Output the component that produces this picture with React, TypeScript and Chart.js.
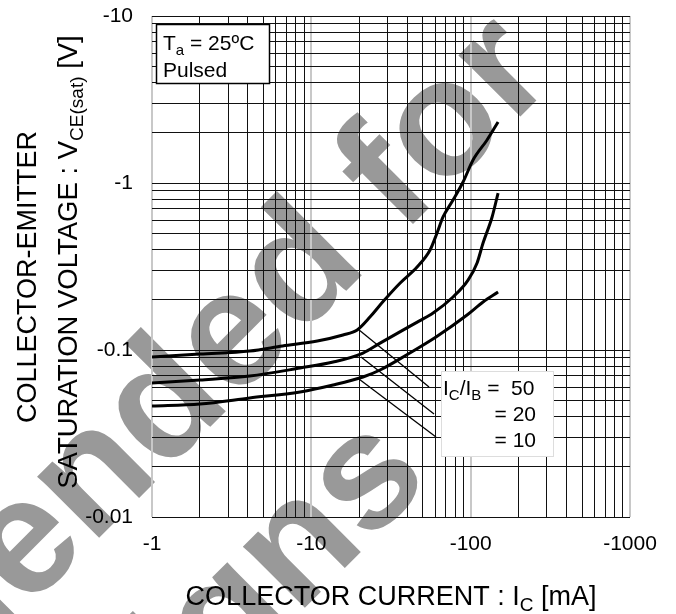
import React, { useEffect, useRef } from 'react';
import { Chart, registerables } from 'chart.js';

Chart.register(...registerables);

// ---- data ----
const xTicks = [1, 2, 3, 4, 5, 6, 7, 8, 9, 10, 20, 30, 40, 50, 60, 70, 80, 90, 100, 200, 300, 400, 500, 600, 700, 800, 900, 1000];
const yTicks = [0.01, 0.02, 0.03, 0.04, 0.05, 0.06, 0.07, 0.08, 0.09, 0.1, 0.2, 0.3, 0.4, 0.5, 0.6, 0.7, 0.8, 0.9, 1, 2, 3, 4, 5, 6, 7, 8, 9, 10];
const xDecades = [1, 10, 100, 1000];
const xDecadeLabels = ['-1', '-10', '-100', '-1000'];
const yDecades = [0.01, 0.1, 1, 10];
const yDecadeLabels = ['-0.01', '-0.1', '-1', '-10'];

const ic50X = [1, 2, 4.1, 6.6, 10.9, 15.8, 19.4, 23.4, 28.2, 36.1, 46.1, 55.6, 61.5, 67.1, 77.5, 89.6, 103.5, 126.7, 148.6];
const ic50Y = [0.0908, 0.0946, 0.0986, 0.1057, 0.1132, 0.123, 0.1318, 0.158, 0.195, 0.252, 0.314, 0.397, 0.502, 0.626, 0.791, 1.014, 1.373, 1.81, 2.32];

const ic20X = [1, 2, 4.1, 8.5, 13.7, 21.1, 27.0, 47.4, 58.1, 77.5, 96.3, 109.7, 119.6, 136.3, 148.6];
const ic20Y = [0.0634, 0.0661, 0.0698, 0.078, 0.0847, 0.0959, 0.11, 0.149, 0.1665, 0.2077, 0.262, 0.332, 0.437, 0.626, 0.871];

const ic10X = [1, 2, 4.1, 8.5, 13.7, 21.1, 27.0, 40, 60.6, 94.9, 119.6, 148.6];
const ic10Y = [0.0462, 0.0475, 0.0516, 0.0561, 0.0617, 0.0689, 0.0759, 0.094, 0.1197, 0.162, 0.1938, 0.2225];

const leader50X = [19.6, 54.8];
const leader50Y = [0.1336, 0.06];
const leader20X = [20.5, 58.9];
const leader20Y = [0.0908, 0.0414];
const leader10X = [19.9, 60.6];
const leader10Y = [0.067, 0.0301];

const xTitle = ['COLLECTOR CURRENT : I', 'C', ' [mA]'];
const yTitle1 = 'COLLECTOR-EMITTER';
const yTitle2 = ['SATURATION VOLTAGE : V', 'CE(sat)', ' [V]'];
const condLine1 = ['T', 'a', ' = 25ºC'];
const condLine2 = 'Pulsed';
const ratioLine1 = ['I', 'C', '/I', 'B', ' =  50'];
const ratioLine2 = '= 20';
const ratioLine3 = '= 10';
const watermark = ['Not Recommended for', 'New Designs'];

const FONT = '"Liberation Sans", Arial, sans-serif';

const pts = (xs: number[], ys: number[]) => xs.map((x, i) => ({ x, y: ys[i] }));

// draws alternating normal/subscript parts (even index normal, odd index subscript)
function drawRich(ctx: CanvasRenderingContext2D, parts: string[], x: number, y: number, size: number, align: 'left' | 'center' | 'right') {
  const sub = Math.round(size * 0.7);
  const widths = parts.map((p, i) => {
    ctx.font = `${i % 2 ? sub : size}px ${FONT}`;
    return ctx.measureText(p).width;
  });
  const total = widths.reduce((a, b) => a + b, 0);
  let cx = align === 'left' ? x : align === 'center' ? x - total / 2 : x - total;
  ctx.textAlign = 'left';
  ctx.textBaseline = 'alphabetic';
  parts.forEach((p, i) => {
    ctx.font = `${i % 2 ? sub : size}px ${FONT}`;
    ctx.fillText(p, cx, y + (i % 2 ? size * 0.22 : 0));
    cx += widths[i];
  });
}

const decorPlugin = {
  id: 'decor',
  beforeDraw(chart: any) {
    const ctx = chart.ctx as CanvasRenderingContext2D;
    ctx.save();
    ctx.fillStyle = '#ffffff';
    ctx.fillRect(0, 0, chart.width, chart.height);
    ctx.translate(-68, 705);
    ctx.rotate(-Math.PI / 4);
    ctx.fillStyle = '#999999';
    ctx.font = `bold 165px ${FONT}`;
    ctx.textAlign = 'center';
    ctx.textBaseline = 'alphabetic';
    ctx.fillText(watermark[0], 0, 0);
    ctx.fillText(watermark[1], 0, 195);
    ctx.restore();
  },
  afterDraw(chart: any) {
    const ctx = chart.ctx as CanvasRenderingContext2D;
    ctx.save();
    ctx.fillStyle = '#000';
    // x title
    drawRich(ctx, xTitle, 391, 605, 27, 'center');
    // y titles
    ctx.save();
    ctx.translate(36, 277);
    ctx.rotate(-Math.PI / 2);
    ctx.font = `27px ${FONT}`;
    ctx.textAlign = 'center';
    ctx.textBaseline = 'alphabetic';
    ctx.fillText(yTitle1, 0, 0);
    ctx.restore();
    ctx.save();
    ctx.translate(77, 262);
    ctx.rotate(-Math.PI / 2);
    drawRich(ctx, yTitle2, 0, 0, 27.5, 'center');
    ctx.restore();

    // condition box
    ctx.fillStyle = '#fff';
    ctx.fillRect(156, 24, 113, 59);
    ctx.strokeStyle = '#000';
    ctx.lineWidth = 1.5;
    ctx.strokeRect(156.5, 24.5, 113, 59);
    ctx.fillStyle = '#000';
    drawRich(ctx, condLine1, 163, 50, 21, 'left');
    ctx.font = `21px ${FONT}`;
    ctx.textAlign = 'left';
    ctx.fillText(condLine2, 163, 77);

    // ratio box
    ctx.fillStyle = '#fff';
    ctx.fillRect(441, 371, 112, 85);
    ctx.strokeStyle = '#dddddd';
    ctx.lineWidth = 1;
    ctx.strokeRect(441.5, 371.5, 112, 85);
    ctx.fillStyle = '#000';
    drawRich(ctx, ratioLine1, 443, 395, 21, 'left');
    ctx.font = `21px ${FONT}`;
    ctx.textAlign = 'right';
    ctx.fillText(ratioLine2, 536, 421);
    ctx.fillText(ratioLine3, 536, 447);
    ctx.restore();
  },
};

export default function App() {
  const ref = useRef<HTMLCanvasElement>(null);
  useEffect(() => {
    if (!ref.current) return;
    const curve = (data: any) => ({
      data,
      borderColor: '#000',
      borderWidth: 3,
      pointRadius: 0,
      fill: false,
      cubicInterpolationMode: 'monotone' as const,
    });
    const leader = (data: any) => ({
      data,
      borderColor: '#000',
      borderWidth: 1.3,
      pointRadius: 0,
      fill: false,
    });
    const chart = new Chart(ref.current, {
      type: 'line',
      data: {
        datasets: [
          curve(pts(ic50X, ic50Y)),
          curve(pts(ic20X, ic20Y)),
          curve(pts(ic10X, ic10Y)),
          leader(pts(leader50X, leader50Y)),
          leader(pts(leader20X, leader20Y)),
          leader(pts(leader10X, leader10Y)),
        ],
      },
      options: {
        animation: false,
        responsive: false,
        events: [],
        layout: { padding: { left: 0, top: 16, right: 46, bottom: 0 } },
        plugins: { legend: { display: false }, tooltip: { enabled: false } },
        scales: {
          x: {
            type: 'logarithmic',
            min: 1,
            max: 1000,
            afterBuildTicks: (s: any) => { s.ticks = xTicks.map((v) => ({ value: v })); },
            afterFit: (s: any) => { s.height = 97; s.paddingLeft = 0; s.paddingRight = 0; },
            border: { display: false },
            grid: {
              drawTicks: false,
              color: (c: any) => (xDecades.includes(c.tick?.value) ? '#c8c8c8' : '#111'),
              lineWidth: (c: any) => (xDecades.includes(c.tick?.value) ? 2 : 1),
            },
            ticks: {
              autoSkip: false,
              maxRotation: 0,
              padding: 15,
              color: '#000',
              font: { family: FONT, size: 21 },
              callback: (v: any) => {
                const i = xDecades.indexOf(Number(v));
                return i >= 0 ? xDecadeLabels[i] : '';
              },
            },
          },
          y: {
            type: 'logarithmic',
            min: 0.01,
            max: 10,
            afterBuildTicks: (s: any) => { s.ticks = yTicks.map((v) => ({ value: v })); },
            afterFit: (s: any) => { s.width = 152; s.paddingTop = 0; s.paddingBottom = 0; },
            border: { display: false },
            grid: { drawTicks: false, color: '#111', lineWidth: 1 },
            ticks: {
              autoSkip: false,
              padding: 19,
              color: '#000',
              font: { family: FONT, size: 21 },
              callback: (v: any) => {
                const i = yDecades.findIndex((d) => Math.abs(d - Number(v)) < d * 1e-6);
                return i >= 0 ? yDecadeLabels[i] : '';
              },
            },
          },
        },
      },
      plugins: [decorPlugin],
    });
    return () => chart.destroy();
  }, []);
  return (
    <div style={{ position: 'absolute', left: 0, top: 0, width: 676, height: 614 }}>
      <canvas ref={ref} width={676} height={614} style={{ display: 'block' }} />
    </div>
  );
}
